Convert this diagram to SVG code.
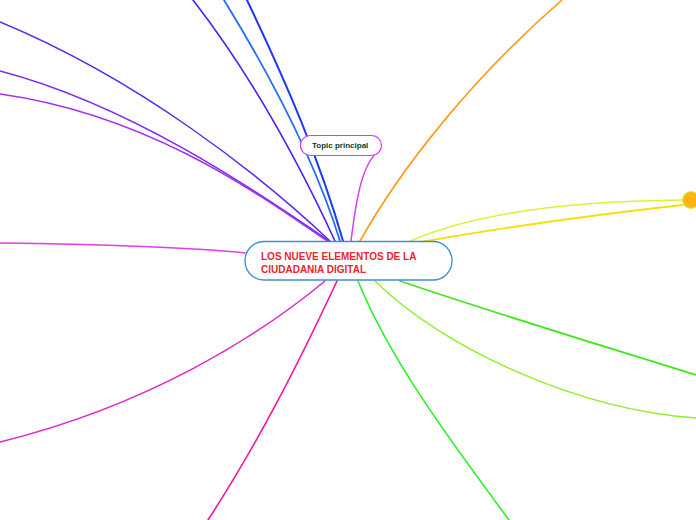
<svg xmlns="http://www.w3.org/2000/svg" width="696" height="520" viewBox="0 0 696 520">
<style>
.c{fill:none;stroke-linecap:round}
.t{font-family:"Liberation Sans",Arial,sans-serif;font-weight:bold}
</style>
<rect width="696" height="520" fill="#ffffff"/>
<g id="connectors">
<path class="c" stroke="#4a1ff0" stroke-width="1.6" d="M335,241 C300,165 255,80 193,0"/>
<path class="c" stroke="#1f6ff5" stroke-width="1.8" d="M340,241 C315,160 270,75 224,0"/>
<path class="c" stroke="#2237f0" stroke-width="2" d="M343,241 C320,160 285,80 247,0"/>
<path class="c" stroke="#5b28f0" stroke-width="1.5" d="M330,241 C260,175 140,80 0,22"/>
<path class="c" stroke="#7a2cf0" stroke-width="1.6" d="M329,241 C255,190 130,105 0,71"/>
<path class="c" stroke="#a433f0" stroke-width="1.6" d="M327,241 C260,195 150,115 0,94"/>
<path class="c" stroke="#d33ef0" stroke-width="1.5" d="M351,241 C356,200 362,162 380,150"/>
<path class="c" stroke="#e43ce8" stroke-width="1.5" d="M0,243 C100,244 200,248 245,253"/>
<path class="c" stroke="#e026c4" stroke-width="1.5" d="M325,281 C260,335 150,405 0,442"/>
<path class="c" stroke="#f014a0" stroke-width="1.6" d="M337,281 C300,360 260,440 208,520"/>
<path class="c" stroke="#2bf02b" stroke-width="1.6" d="M358,281 C390,360 450,440 509,520"/>
<path class="c" stroke="#8ff02a" stroke-width="1.4" d="M375,281 C445,350 580,410 696,418"/>
<path class="c" stroke="#3ee81a" stroke-width="1.8" d="M400,281 C500,315 600,345 696,375"/>
<path class="c" stroke="#f2e200" stroke-width="1.8" d="M415,243 C500,228 600,214 683,205"/>
<path class="c" stroke="#d9f238" stroke-width="1.4" d="M410,241 C470,215 560,201 683,200"/>
<path class="c" stroke="#ff9a14" stroke-width="1.6" d="M360,241 C400,170 470,80 562,0"/>
</g>
<g id="node-center">
<rect x="245" y="241.5" width="207" height="38.5" rx="19" fill="#ffffff" stroke="#3a8fd3" stroke-width="1.3"/>
<text class="t" x="261" y="259.5" font-size="10" fill="#ea2530">LOS NUEVE ELEMENTOS DE LA</text>
<text class="t" x="261" y="273" font-size="10" fill="#ea2530">CIUDADANIA DIGITAL</text>
</g>
<g id="node-topic">
<rect x="300.5" y="135.5" width="81" height="20" rx="10" fill="#ffffff" stroke="#d33ef0" stroke-width="1.2"/>
<text class="t" x="312" y="148" font-size="8" fill="#0b3d2b">Topic principal</text>
</g>
<g id="node-dot">
<circle cx="691" cy="200" r="8.5" fill="#ffb414" stroke="#d9f238" stroke-width="1.2"/>
</g>
</svg>
